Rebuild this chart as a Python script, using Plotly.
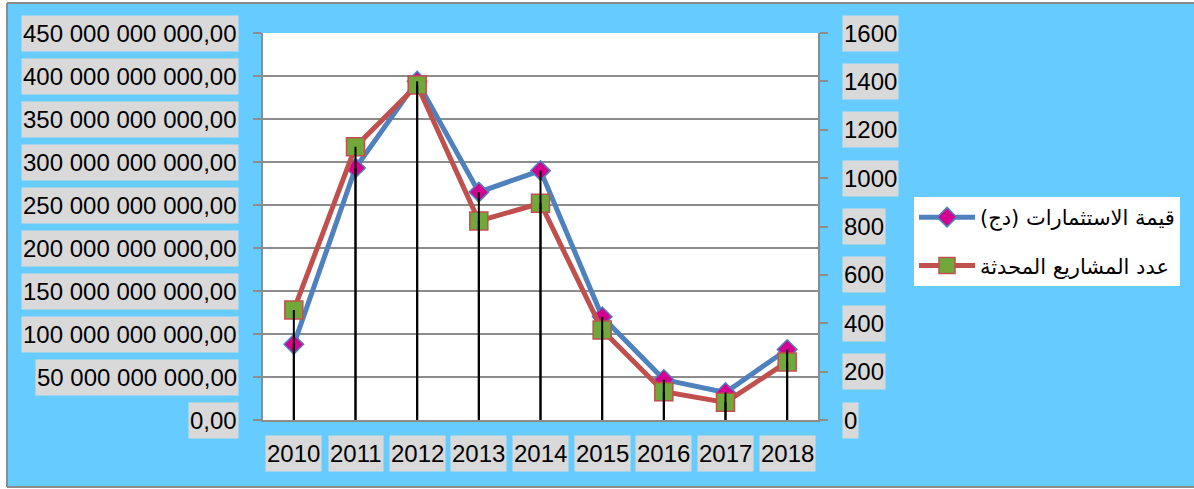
import plotly.graph_objects as go

# ---- data ----
years = ["2010", "2011", "2012", "2013", "2014", "2015", "2016", "2017", "2018"]
invest = [88e9, 293e9, 394e9, 265e9, 290e9, 120e9, 47e9, 32e9, 82e9]
projects = [455, 1130, 1385, 823, 896, 372, 117, 73, 240]
series_names = ["قيمة الاستثمارات (دج)", "عدد المشاريع المحدثة"]

left_ticks = [0, 50e9, 100e9, 150e9, 200e9, 250e9, 300e9, 350e9, 400e9, 450e9]
left_labels = ["0,00", "50 000 000 000,00", "100 000 000 000,00", "150 000 000 000,00",
               "200 000 000 000,00", "250 000 000 000,00", "300 000 000 000,00",
               "350 000 000 000,00", "400 000 000 000,00", "450 000 000 000,00"]
right_ticks = [0, 200, 400, 600, 800, 1000, 1200, 1400, 1600]
right_labels = ["0", "200", "400", "600", "800", "1000", "1200", "1400", "1600"]

# ---- geometry (pixels) ----
W, H = 1194, 489
L, R, T, B = 263, 818, 33, 420
pw, ph = R - L, B - T


def px_x(p):
    return (p - L) / pw


def px_y(p):
    return (B - p) / ph


FONT = "Liberation Sans, Arial, sans-serif"
LBL_BG = "#D9D9D9"
GRID = "#8C8C8C"
LSIZE = 24

fig = go.Figure()

fig.add_trace(go.Scatter(
    x=years, y=invest, name=series_names[0], mode="lines+markers", yaxis="y",
    line=dict(color="#4F81BD", width=5),
    marker=dict(symbol="diamond", size=15, color="#D4008F",
                line=dict(color="#4F81BD", width=1.5)),
    legendgroup="a",
))
fig.add_trace(go.Scatter(
    x=years, y=projects, name=series_names[1], mode="lines+markers", yaxis="y2",
    line=dict(color="#C0504D", width=5),
    marker=dict(symbol="square", size=18, color="#70A83C",
                line=dict(color="#C0504D", width=1.5)),
    legendgroup="b",
))


# drop lines
def drops(vals):
    xs, ys = [], []
    for c, v in zip(years, vals):
        xs += [c, c, None]
        ys += [v, 0, None]
    return xs, ys


dx, dy = drops(projects)
fig.add_trace(go.Scatter(x=dx, y=dy, mode="lines", yaxis="y2", showlegend=False,
                         line=dict(color="black", width=2), hoverinfo="skip"))
dx, dy = drops(invest)
fig.add_trace(go.Scatter(x=dx, y=dy, mode="lines", yaxis="y3", showlegend=False,
                         line=dict(color="black", width=2), hoverinfo="skip"))

annotations = []
for v, t in zip(left_ticks, left_labels):
    annotations.append(dict(x=px_x(239), xref="paper", y=v, yref="y", text=t,
                            xanchor="right", yanchor="middle", showarrow=False,
                            bgcolor=LBL_BG, height=33, borderpad=1,
                            font=dict(family=FONT, size=LSIZE, color="black")))
for v, t in zip(right_ticks, right_labels):
    annotations.append(dict(x=px_x(842), xref="paper", y=v, yref="y2", text=t,
                            xanchor="left", yanchor="middle", showarrow=False,
                            bgcolor=LBL_BG, height=33, borderpad=1,
                            font=dict(family=FONT, size=LSIZE, color="black")))
for i, c in enumerate(years):
    annotations.append(dict(x=i, xref="x", y=px_y(453), yref="paper", text=c,
                            xanchor="center", yanchor="middle", showarrow=False,
                            bgcolor=LBL_BG, height=33, borderpad=1,
                            font=dict(family=FONT, size=LSIZE, color="black")))

bx0, bx1, by0, by1 = px_x(7), px_x(1400), px_y(487), px_y(3)
shapes = [
    dict(type="rect", xref="paper", yref="paper", x0=bx0, x1=bx1,
         y0=by0, y1=by1, fillcolor="#66CCFF", line=dict(width=0), layer="below"),
    dict(type="line", xref="paper", yref="paper", x0=bx0, x1=bx1, y0=by1, y1=by1,
         line=dict(color=GRID, width=2), layer="below"),
    dict(type="line", xref="paper", yref="paper", x0=bx0, x1=bx1, y0=by0, y1=by0,
         line=dict(color=GRID, width=2), layer="below"),
    dict(type="line", xref="paper", yref="paper", x0=bx0, x1=bx0, y0=by0, y1=by1,
         line=dict(color=GRID, width=2), layer="below"),
    dict(type="rect", xref="paper", yref="paper", x0=0, x1=1, y0=0, y1=1,
         fillcolor="white", line=dict(width=0), layer="below"),
]

fig.update_layout(
    width=W, height=H,
    margin=dict(l=L, r=W - R, t=T, b=H - B, autoexpand=False),
    paper_bgcolor="white", plot_bgcolor="rgba(0,0,0,0)",
    font=dict(family=FONT, color="black"),
    showlegend=True,
    legend=dict(x=px_x(914), y=px_y(197), xanchor="left", yanchor="top",
                bgcolor="white", borderwidth=0, tracegroupgap=18,
                itemwidth=56,
                font=dict(family="DejaVu Sans, sans-serif", size=21,
                          color="black")),
    xaxis=dict(type="category", range=[-0.5, 8.5], showgrid=False,
               showline=True, linecolor=GRID, linewidth=2,
               showticklabels=False, ticks="", zeroline=False),
    yaxis=dict(range=[0, 450e9], tickvals=left_ticks, showticklabels=False,
               showgrid=True, gridcolor=GRID, gridwidth=2,
               showline=True, linecolor=GRID, linewidth=2,
               ticks="outside", ticklen=8, tickcolor=GRID, tickwidth=2,
               zeroline=False),
    yaxis2=dict(range=[0, 1600], tickvals=right_ticks, showticklabels=False,
                overlaying="y", side="right", showgrid=False,
                showline=True, linecolor=GRID, linewidth=2,
                ticks="outside", ticklen=8, tickcolor=GRID, tickwidth=2,
                zeroline=False),
    yaxis3=dict(range=[0, 450e9], overlaying="y", visible=False),
    annotations=annotations,
    shapes=shapes,
)

fig.write_html("out.html", config={"displayModeBar": False},
               post_script="document.body.style.margin='0';")
